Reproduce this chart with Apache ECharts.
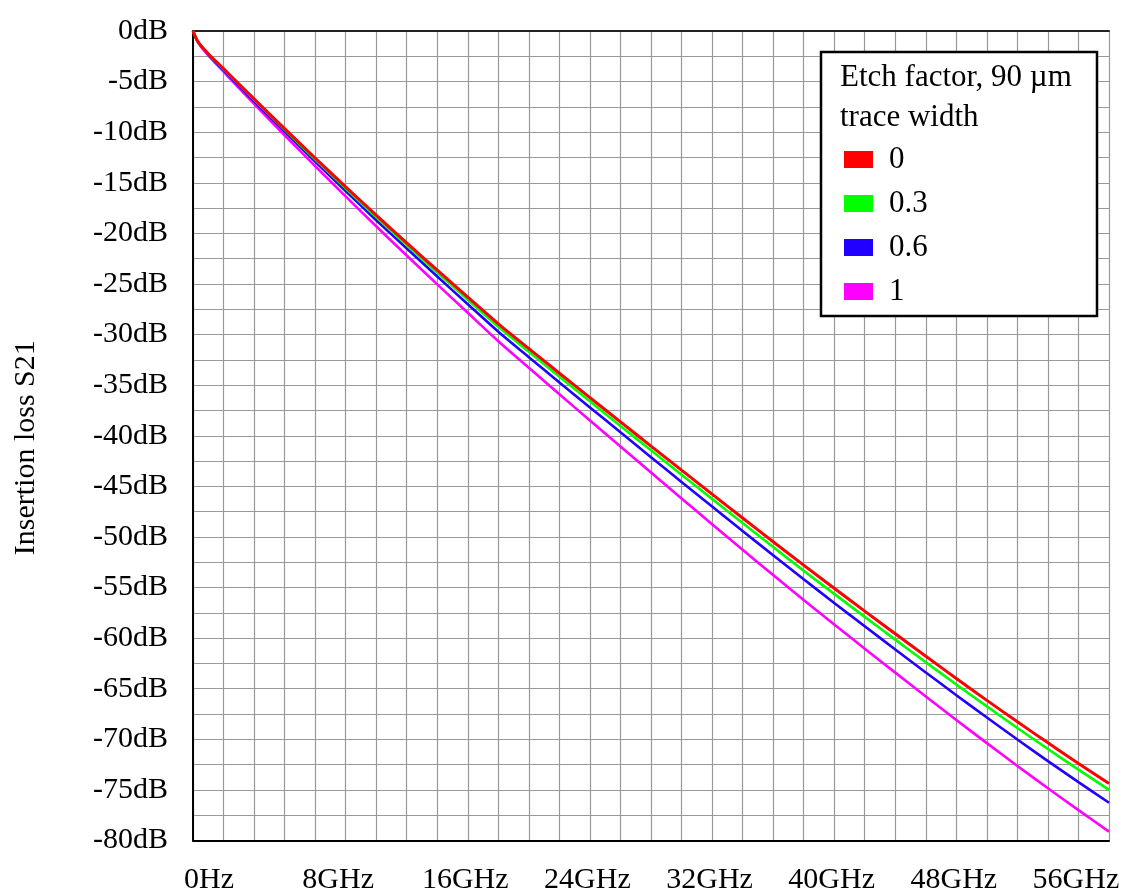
<!DOCTYPE html>
<html>
<head>
<meta charset="utf-8">
<title>Insertion loss S21 vs etch factor</title>
<script src="https://cdn.jsdelivr.net/npm/echarts@6/dist/echarts.min.js"></script>
<style>
  html, body { margin: 0; padding: 0; background: #ffffff; }
  #chart { width: 1131px; height: 891px; }
</style>
</head>
<body>
<div id="chart"></div>
<script>
// Frequency sample points (GHz)
const freqGHz = [0, 0.25, 0.5, 1, 1.5, 2, 3, 4, 6, 8, 10, 12, 14, 16, 18, 20, 22, 24, 26, 28, 30,
  32, 34, 36, 38, 40, 42, 44, 46, 48, 50, 52, 54, 56, 58, 60];

// Insertion loss S21 (dB) for each etch factor, 90 µm trace width
const s21Etch0 = [0, -0.85, -1.4, -2.25, -3.0, -3.72, -5.22, -6.7, -9.65, -12.55, -15.40, -18.20,
  -20.94, -23.64, -26.30, -28.94, -31.39, -33.82, -36.23, -38.63, -41.02, -43.40, -45.77, -48.13,
  -50.47, -52.79, -55.07, -57.33, -59.57, -61.79, -63.99, -66.15, -68.27, -70.35, -72.38, -74.37];
const s21Etch03 = [0, -0.86, -1.41, -2.27, -3.03, -3.76, -5.28, -6.78, -9.75, -12.67, -15.55, -18.38,
  -21.14, -23.86, -26.56, -29.24, -31.71, -34.17, -36.60, -39.03, -41.44, -43.85, -46.24, -48.63,
  -50.99, -53.34, -55.63, -57.90, -60.15, -62.38, -64.59, -66.75, -68.88, -70.96, -73.00, -74.99];
const s21Etch06 = [0, -0.87, -1.44, -2.32, -3.11, -3.87, -5.42, -6.95, -9.95, -12.9, -15.82, -18.70,
  -21.50, -24.26, -27.00, -29.72, -32.24, -34.73, -37.20, -39.66, -42.12, -44.56, -46.99, -49.41,
  -51.81, -54.19, -56.52, -58.83, -61.12, -63.39, -65.64, -67.85, -70.02, -72.15, -74.23, -76.27];
const s21Etch1 = [0, -0.9, -1.5, -2.4, -3.22, -4.02, -5.62, -7.2, -10.3, -13.35, -16.35, -19.30,
  -22.19, -25.04, -27.85, -30.66, -33.29, -35.90, -38.49, -41.07, -43.64, -46.20, -48.74, -51.27,
  -53.77, -56.24, -58.65, -61.04, -63.41, -65.76, -68.09, -70.38, -72.63, -74.84, -77.00, -79.12];

const seriesNames = ['0', '0.3', '0.6', '1'];
const seriesColors = ['#ff0000', '#00ff00', '#2200ff', '#ff00ff'];

const FONT = '"Liberation Serif", "Times New Roman", serif';

function pairs(ys) {
  return freqGHz.map((f, i) => [f, ys[i]]);
}

// Frequency tick labels every 8 GHz, nudged right of their grid line
function freqLabel(v) {
  if (v % 8 !== 0) return '';
  const text = v === 0 ? '0Hz' : v + 'GHz';
  const style = v === 0 ? 'a' : (v === 8 ? 'b' : 'c');
  return '{' + style + '|' + text + '}';
}

const chart = echarts.init(document.getElementById('chart'), null, { renderer: 'canvas' });

const lineSeries = [s21Etch0, s21Etch03, s21Etch06, s21Etch1].map((ys, i) => ({
  name: seriesNames[i],
  type: 'line',
  data: pairs(ys),
  showSymbol: false,
  symbol: 'none',
  smooth: 0.25,
  z: 10 - i,
  lineStyle: { color: seriesColors[i], width: i === 0 ? 3 : 2.6 },
  itemStyle: { color: seriesColors[i] },
  emphasis: { disabled: true }
}));

chart.setOption({
  animation: false,
  backgroundColor: '#ffffff',
  textStyle: { fontFamily: FONT },
  grid: { left: 193, top: 31, right: 22, bottom: 50.5, containLabel: false, outerBoundsMode: 'none' },
  xAxis: [{
    type: 'value',
    min: 0,
    max: 60,
    interval: 2,
    axisLine: { show: true, onZero: false, lineStyle: { color: '#000', width: 2 } },
    axisTick: { show: false },
    splitLine: { show: true, lineStyle: { color: '#999999', width: 1.2 } },
    axisLabel: {
      formatter: freqLabel,
      margin: 25,
      color: '#000',
      fontFamily: FONT,
      fontSize: 30,
      showMaxLabel: false,
      rich: {
        a: { fontFamily: FONT, fontSize: 30, color: '#000', padding: [0, 0, 0, 32] },
        b: { fontFamily: FONT, fontSize: 30, color: '#000', padding: [0, 0, 0, 46] },
        c: { fontFamily: FONT, fontSize: 30, color: '#000', padding: [0, 0, 0, 56] }
      }
    }
  }, {
    type: 'value',
    position: 'top',
    min: 0,
    max: 60,
    interval: 2,
    axisLine: { show: true, onZero: false, lineStyle: { color: '#222', width: 2 } },
    axisTick: { show: false },
    axisLabel: { show: false },
    splitLine: { show: false }
  }],
  yAxis: {
    type: 'value',
    min: -80,
    max: 0,
    interval: 2.5,
    name: 'Insertion loss S21',
    nameLocation: 'middle',
    nameGap: 152,
    nameRotate: 90,
    nameTextStyle: { fontFamily: FONT, fontSize: 30, color: '#000', padding: [0, 24, 0, 0] },
    axisLine: { show: true, onZero: false, lineStyle: { color: '#000', width: 2 } },
    axisTick: { show: false },
    splitLine: { show: true, lineStyle: { color: '#999999', width: 1.2 } },
    axisLabel: {
      formatter: v => (v % 5 === 0 ? v + 'dB' : ''),
      margin: 25,
      color: '#000',
      fontFamily: FONT,
      fontSize: 30,
      padding: [0, 0, 10, 0]
    }
  },
  legend: {
    show: true,
    orient: 'vertical',
    left: 844,
    top: 144,
    padding: 0,
    icon: 'rect',
    itemWidth: 29,
    itemHeight: 17,
    itemGap: 13,
    z: 30,
    selectedMode: false,
    data: seriesNames,
    textStyle: { fontFamily: FONT, fontSize: 31, color: '#000', lineHeight: 30, padding: [0, 0, 0, 11] }
  },
  graphic: [{
    type: 'rect',
    z: 25,
    shape: { x: 821, y: 52, width: 276, height: 264 },
    style: { fill: '#ffffff', stroke: '#000000', lineWidth: 2.5 }
  }, {
    type: 'text',
    z: 26,
    x: 840,
    y: 58,
    style: {
      text: 'Etch factor, 90 µm\ntrace width',
      font: '31px ' + FONT,
      lineHeight: 40,
      fill: '#000',
      verticalAlign: 'top'
    }
  }],
  series: lineSeries
});
</script>
</body>
</html>
